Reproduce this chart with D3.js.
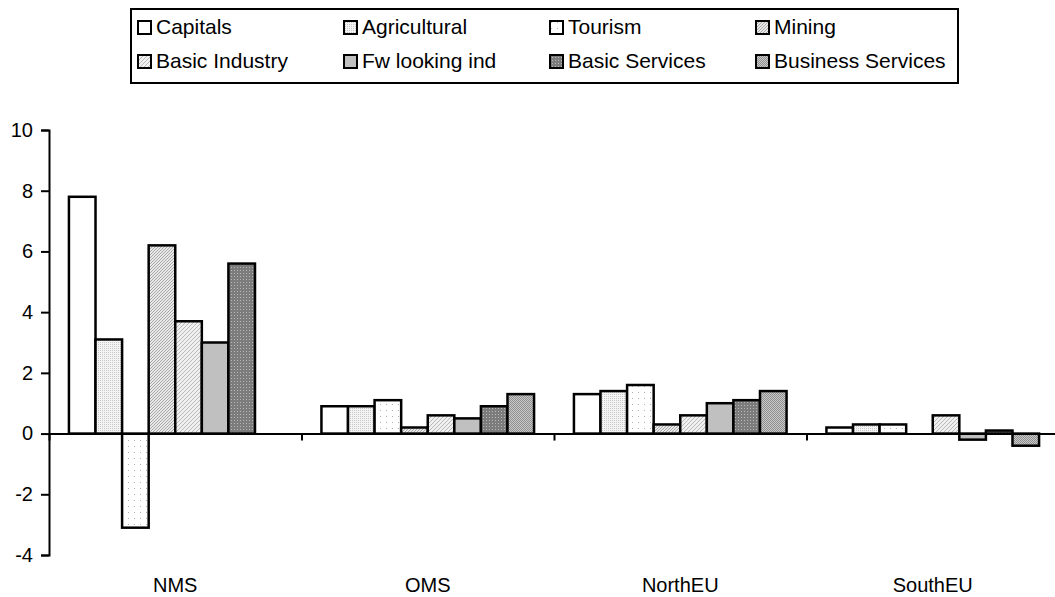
<!DOCTYPE html>
<html>
<head>
<meta charset="utf-8">
<script src="https://cdn.jsdelivr.net/npm/d3@7"></script>
<style>
  body { margin: 0; background: #fff; }
  text { font-family: "Liberation Sans", Arial, sans-serif; fill: #000; }
</style>
</head>
<body>
<div id="chart"></div>
<script>
// data
var categories = ["NMS", "OMS", "NorthEU", "SouthEU"];
var seriesNames = ["Capitals", "Agricultural", "Tourism", "Mining",
                   "Basic Industry", "Fw looking ind", "Basic Services", "Business Services"];
var capitals      = [7.8, 0.9, 1.3, 0.2];
var agricultural  = [3.1, 0.9, 1.4, 0.3];
var tourism       = [-3.1, 1.1, 1.6, 0.3];
var mining        = [6.2, 0.2, 0.3, null];
var basicIndustry = [3.7, 0.6, 0.6, 0.6];
var fwLooking     = [3.0, 0.5, 1.0, -0.2];
var basicServices = [5.6, 0.9, 1.1, 0.1];
var businessServ  = [null, 1.3, 1.4, -0.4];
var yTicks = [-4, -2, 0, 2, 4, 6, 8, 10];

var seriesValues = [capitals, agricultural, tourism, mining,
                    basicIndustry, fwLooking, basicServices, businessServ];

var W = 1055, H = 597;
var svg = d3.select("#chart").append("svg")
    .attr("width", W).attr("height", H);

// patterns, one per series
var defs = svg.append("defs");
function pat(id, size, bg, draw) {
    var p = defs.append("pattern").attr("id", id)
        .attr("patternUnits", "userSpaceOnUse")
        .attr("width", size).attr("height", size);
    p.append("rect").attr("width", size).attr("height", size).attr("fill", bg);
    draw(p);
}
pat("p0", 4, "#ffffff", function(p){});
pat("p1", 2, "#f4f4f4", function(p){
    p.append("rect").attr("width", 1).attr("height", 1).attr("fill", "#c8c8c8");
});
pat("p2", 6, "#ffffff", function(p){
    p.append("rect").attr("x", 2).attr("y", 2).attr("width", 1).attr("height", 1).attr("fill", "#b0b0b0");
});
pat("p3", 3, "#e8e8e8", function(p){
    p.append("path").attr("d", "M0,3 L3,0").attr("stroke", "#a8a8a8").attr("stroke-width", 1);
});
pat("p4", 4, "#f0f0f0", function(p){
    p.append("path").attr("d", "M0,4 L4,0 M-1,1 L1,-1 M3,5 L5,3").attr("stroke", "#b8b8b8").attr("stroke-width", 1);
});
pat("p5", 4, "#c0c0c0", function(p){});
pat("p6", 3, "#7c7c7c", function(p){
    p.append("rect").attr("width", 1).attr("height", 1).attr("fill", "#b8b8b8");
});
pat("p7", 2, "#c8c8c8", function(p){
    p.append("rect").attr("width", 1).attr("height", 1).attr("fill", "#909090");
    p.append("rect").attr("x", 1).attr("y", 1).attr("width", 1).attr("height", 1).attr("fill", "#909090");
});

// scales
var x0 = d3.scaleBand().domain(categories).range([49, 1059]).padding(0);
var x1 = d3.scaleBand().domain(seriesNames).range([0, x0.bandwidth()])
    .paddingInner(0).paddingOuter(0.75);
var y = d3.scaleLinear().domain([-4, 10]).range([555, 130]);

// bars
var groups = svg.selectAll("g.series").data(seriesNames).enter().append("g")
    .attr("class", "series")
    .attr("fill", function(d, i){ return "url(#p" + i + ")"; });

groups.selectAll("rect")
    .data(function(d, i){
        return categories.map(function(c, j){ return { cat: c, s: d, v: seriesValues[i][j] }; })
            .filter(function(e){ return e.v !== null; });
    })
    .enter().append("rect")
    .attr("x", function(d){ return x0(d.cat) + x1(d.s); })
    .attr("width", x1.bandwidth())
    .attr("y", function(d){ return y(Math.max(0, d.v)); })
    .attr("height", function(d){ return Math.abs(y(d.v) - y(0)); })
    .attr("stroke", "#000").attr("stroke-width", 2.5);

// y axis
var yAxis = svg.append("g").attr("transform", "translate(49,0)")
    .call(d3.axisLeft(y).tickValues(yTicks).tickSize(8).tickPadding(8)
        .tickFormat(function(d){ return String(d); }));
yAxis.select(".domain").attr("stroke", "#000").attr("stroke-width", 2);
yAxis.selectAll(".tick line").attr("stroke", "#000").attr("stroke-width", 2);
yAxis.selectAll("text").style("font-size", "20px").attr("font-family", null);

// zero line with category separators
var sep = d3.scaleLinear().domain([0, 4]).range([49, 1059]);
var xAxis = svg.append("g").attr("transform", "translate(0," + y(0) + ")")
    .call(d3.axisBottom(sep).tickValues([0, 1, 2, 3, 4]).tickSize(7).tickSizeOuter(0).tickFormat(""));
xAxis.select(".domain").attr("stroke", "#000").attr("stroke-width", 2);
xAxis.selectAll(".tick line").attr("stroke", "#000").attr("stroke-width", 2);

// category labels
svg.selectAll("text.cat").data(categories).enter().append("text")
    .attr("class", "cat")
    .attr("x", function(d){ return x0(d) + x0.bandwidth() / 2; })
    .attr("y", 592)
    .attr("text-anchor", "middle")
    .style("font-size", "20px")
    .text(function(d){ return d; });

// legend
var legend = svg.append("g");
legend.append("rect").attr("x", 131).attr("y", 9).attr("width", 827).attr("height", 74)
    .attr("fill", "#fff").attr("stroke", "#000").attr("stroke-width", 2);
var items = legend.selectAll("g.item").data(seriesNames).enter().append("g")
    .attr("class", "item")
    .attr("transform", function(d, i){
        return "translate(" + (137 + (i % 4) * 206) + "," + (20 + Math.floor(i / 4) * 34) + ")";
    });
items.append("rect").attr("x", 1).attr("y", 1).attr("width", 13).attr("height", 13)
    .attr("fill", function(d, i){ return "url(#p" + i + ")"; })
    .attr("stroke", "#000").attr("stroke-width", 2);
items.append("text").attr("x", 19).attr("y", 14)
    .style("font-size", "21px")
    .text(function(d){ return d; });
</script>
</body>
</html>
